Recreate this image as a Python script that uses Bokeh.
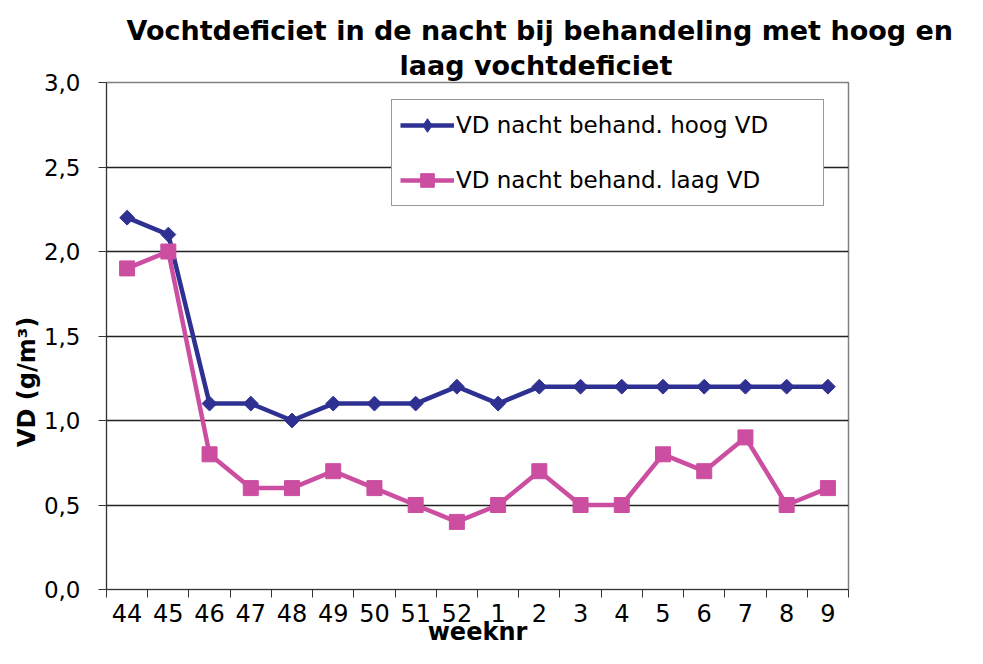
from bokeh.plotting import figure
from bokeh.models import FixedTicker, Range1d, Legend, LegendItem, Title
from bokeh.embed import file_html
from bokeh.resources import INLINE
import numpy as np

weeks = ["44", "45", "46", "47", "48", "49", "50", "51", "52", "1", "2", "3", "4", "5", "6", "7", "8", "9"]
hoog = [2.2, 2.1, 1.1, 1.1, 1.0, 1.1, 1.1, 1.1, 1.2, 1.1, 1.2, 1.2, 1.2, 1.2, 1.2, 1.2, 1.2, 1.2]
laag = [1.9, 2.0, 0.8, 0.6, 0.6, 0.7, 0.6, 0.5, 0.4, 0.5, 0.7, 0.5, 0.5, 0.8, 0.7, 0.9, 0.5, 0.6]
y_ticks = [0.0, 0.5, 1.0, 1.5, 2.0, 2.5, 3.0]
y_labels = ["0,0", "0,5", "1,0", "1,5", "2,0", "2,5", "3,0"]

BLUE = "#2E3192"
PINK = "#CC4EA0"
FONT = "DejaVu Sans"

n = len(weeks)
xs = np.arange(n) + 0.5

p = figure(width=967, height=648, output_backend="svg", toolbar_location=None,
           x_range=Range1d(0, n), y_range=Range1d(0, 3.0),
           min_border_left=106, min_border_right=119, min_border_top=82, min_border_bottom=30)

p.title = None
t2 = Title(text="laag vochtdeficiet", align="left", text_font=FONT, text_font_size="27px",
           text_font_style="bold", text_color="#000000", offset=293, standoff=4)
t1 = Title(text="Vochtdeficiet in de nacht bij behandeling met hoog en", align="left", text_font=FONT,
           text_font_size="27px", text_font_style="bold", text_color="#000000", offset=20, standoff=0)
p.add_layout(t2, "above")
p.add_layout(t1, "above")

p.background_fill_color = "white"
p.border_fill_color = "white"
p.outline_line_color = "#808080"
p.outline_line_width = 1.5

# x axis: labels at centres, tick marks at boundaries
p.xaxis.ticker = FixedTicker(ticks=list(xs), minor_ticks=list(range(n + 1)))
p.xaxis.major_label_overrides = {float(x): w for x, w in zip(xs, weeks)}
p.xaxis.major_tick_line_color = None
p.xaxis.major_tick_out = 0
p.xaxis.major_tick_in = 0
p.xaxis.minor_tick_line_color = "#333333"
p.xaxis.minor_tick_out = 8
p.xaxis.minor_tick_in = 0
p.xaxis.axis_line_color = "#333333"
p.xaxis.major_label_text_font = FONT
p.xaxis.major_label_text_font_size = "24px"
p.xaxis.major_label_text_color = "#000000"
p.xaxis.major_label_standoff = 6
p.xaxis.axis_label = "weeknr"
p.xaxis.axis_label_text_font = FONT
p.xaxis.axis_label_text_font_size = "24px"
p.xaxis.axis_label_text_font_style = "bold"
p.xaxis.axis_label_text_color = "#000000"
p.xaxis.axis_label_standoff = -7

p.yaxis.ticker = FixedTicker(ticks=y_ticks)
p.yaxis.major_label_overrides = {t: l for t, l in zip(y_ticks, y_labels)}
p.yaxis.minor_tick_line_color = None
p.yaxis.major_tick_out = 8
p.yaxis.major_tick_in = 0
p.yaxis.major_tick_line_color = "#333333"
p.yaxis.axis_line_color = "#333333"
p.yaxis.major_label_text_font = FONT
p.yaxis.major_label_text_font_size = "23px"
p.yaxis.major_label_text_color = "#000000"
p.yaxis.major_label_standoff = 18
p.yaxis.axis_label = "VD (g/m³)" + "\u00a0" * 11
p.yaxis.axis_label_text_font = FONT
p.yaxis.axis_label_text_font_size = "24px"
p.yaxis.axis_label_text_font_style = "bold"
p.yaxis.axis_label_text_color = "#000000"
p.yaxis.axis_label_standoff = 0

p.xgrid.grid_line_color = None
p.ygrid.ticker = FixedTicker(ticks=y_ticks)
p.ygrid.grid_line_color = "#222222"
p.ygrid.grid_line_width = 1.3

l1 = p.line(xs, hoog, line_color=BLUE, line_width=4.5)
s1 = p.scatter(xs, hoog, marker="square", angle=np.pi / 4, size=10.5, fill_color=BLUE, line_color=BLUE)
l2 = p.line(xs, laag, line_color=PINK, line_width=4.5)
s2 = p.scatter(xs, laag, marker="square", size=15, fill_color=PINK, line_color=PINK)
# legend-only glyph (a single undrawn NaN point) so the legend shows a diamond like the original
s1_leg = p.scatter(x=[np.nan], y=[np.nan], marker="diamond", size=14, fill_color=BLUE, line_color=BLUE)

legend = Legend(items=[LegendItem(label="VD nacht behand. hoog VD", renderers=[l1, s1_leg]),
                       LegendItem(label="VD nacht behand. laag VD", renderers=[l2, s2])],
                location=(285, 383))
legend.label_text_font = FONT
legend.label_text_font_size = "23px"
legend.label_text_color = "#000000"
legend.glyph_width = 54
legend.glyph_height = 34
legend.label_height = 34
legend.label_width = 359
legend.label_standoff = 2
legend.spacing = 21
legend.padding = 8
legend.margin = 0
legend.border_line_color = "#333333"
legend.border_line_width = 1.5
legend.background_fill_alpha = 1.0
p.add_layout(legend, "center")

open("out.html", "w").write(file_html(p, INLINE))
